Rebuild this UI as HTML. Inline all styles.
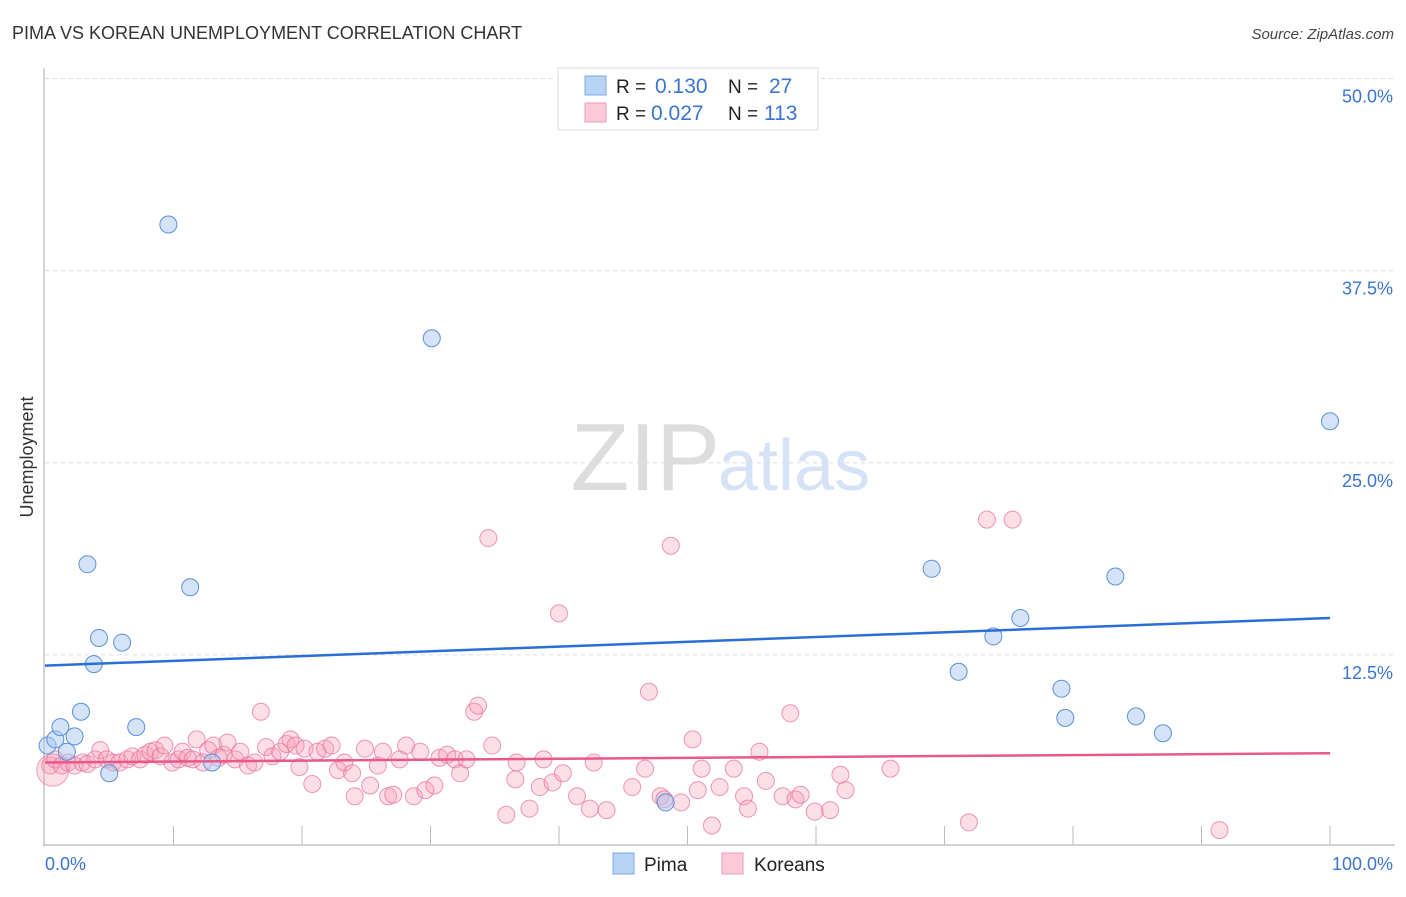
<!DOCTYPE html>
<html><head><meta charset="utf-8"><style>
body{margin:0;background:#fff;font-family:"Liberation Sans",sans-serif;}
svg text{font-family:"Liberation Sans",sans-serif;}
</style></head><body>
<svg id="chart" width="1406" height="892">
<text x="12" y="39" font-size="18" fill="#333">PIMA VS KOREAN UNEMPLOYMENT CORRELATION CHART</text>
<text x="1394" y="39" font-size="15" fill="#444" font-style="italic" text-anchor="end">Source: ZipAtlas.com</text>
<text x="0" y="0" transform="translate(33,457) rotate(-90)" font-size="18" fill="#333" text-anchor="middle">Unemployment</text>
<text x="720" y="490" font-size="96" fill="#ddd" font-family="Liberation Serif" text-anchor="end">ZIP</text>
<text x="718" y="490" font-size="72" fill="#d6e2f5">atlas</text>
<g id="grid"></g><g id="pts"></g><g id="lines"></g>
<g>
<rect x="558" y="68" width="260" height="62" fill="#fff" stroke="#ddd"/>
<rect x="585" y="76" width="21" height="19" fill="#b9d3f5" stroke="#7aa9e6"/>
<rect x="585" y="103" width="21" height="19" fill="#fbc9d8" stroke="#f09ab4"/>
<text x="616" y="93" font-size="19" fill="#222">R = </text><text x="655" y="93" font-size="21" fill="#3b74d2">0.130</text>
<text x="728" y="93" font-size="19" fill="#222">N = </text><text x="769" y="93" font-size="21" fill="#3b74d2">27</text>
<text x="616" y="120" font-size="19" fill="#222">R = </text><text x="651" y="120" font-size="21" fill="#3b74d2">0.027</text>
<text x="728" y="120" font-size="19" fill="#222">N = </text><text x="764" y="120" font-size="21" fill="#3b74d2">113</text>
</g>
<g>
<rect x="613" y="853" width="21" height="21" fill="#b9d3f5" stroke="#7aa9e6"/>
<text x="644" y="871" font-size="19" fill="#222">Pima</text>
<rect x="722" y="853" width="21" height="21" fill="#fbc9d8" stroke="#f09ab4"/>
<text x="754" y="871" font-size="19" fill="#222">Koreans</text>
</g>
</svg>
<script>
const yTicks=[12.5,25,37.5,50];
const yTickLabels=["12.5%","25.0%","37.5%","50.0%"];
const pimaX=[0.2,0.8,1.2,1.7,2.3,2.8,3.3,3.8,4.2,5.0,6.0,7.1,9.6,11.3,13.0,30.1,48.3,69.0,71.1,73.8,75.9,79.1,79.4,83.3,84.9,87.0,100];
const pimaY=[6.6,7.0,7.8,6.2,7.2,8.8,18.4,11.9,13.6,4.8,13.3,7.8,40.5,16.9,5.5,33.1,2.9,18.1,11.4,13.7,14.9,10.3,8.4,17.6,8.5,7.4,27.7];
const korX=[0.4,0.8,1.3,1.8,2.3,2.9,3.3,3.9,4.3,4.8,5.3,5.8,6.4,6.8,7.4,7.8,8.2,8.6,9.0,9.3,9.9,10.4,10.7,11.1,11.5,11.8,12.3,12.7,13.1,13.5,13.9,14.2,14.8,15.2,15.8,16.3,16.8,17.2,17.7,18.3,18.8,19.1,19.5,19.8,20.2,20.8,21.2,21.8,22.3,22.8,23.3,23.9,24.1,24.9,25.3,25.9,26.3,26.7,27.1,27.6,28.1,28.7,29.2,29.6,30.3,30.7,31.3,31.9,32.3,32.8,33.4,33.7,34.5,34.8,35.9,36.6,36.7,37.7,38.5,38.8,39.5,40.0,40.3,41.4,42.4,42.7,43.7,45.7,46.7,47.0,47.9,48.2,48.7,49.5,50.4,50.8,51.1,51.9,52.5,53.6,54.4,54.7,55.6,56.1,57.4,58.0,58.4,58.8,59.9,61.1,61.9,62.3,65.8,71.9,73.3,75.3,91.4];
const korY=[5.3,5.7,5.3,5.5,5.3,5.5,5.4,5.7,6.3,5.7,5.5,5.5,5.7,5.9,5.7,6.0,6.2,6.3,5.9,6.6,5.5,5.7,6.2,5.8,5.7,7.0,5.5,6.3,6.6,5.8,6.0,6.8,5.7,6.2,5.3,5.5,8.8,6.5,5.9,6.2,6.7,7.0,6.6,5.2,6.4,4.1,6.2,6.4,6.6,5.0,5.5,4.8,3.3,6.4,4.0,5.3,6.2,3.3,3.4,5.7,6.6,3.3,6.2,3.7,4.0,5.8,6.0,5.7,4.8,5.7,8.8,9.2,20.1,6.6,2.1,4.4,5.5,2.5,3.9,5.7,4.2,15.2,4.8,3.3,2.5,5.5,2.4,3.9,5.1,10.1,3.3,3.1,19.6,2.9,7.0,3.7,5.1,1.4,3.9,5.1,3.3,2.5,6.2,4.3,3.3,8.7,3.1,3.4,2.3,2.4,4.7,3.7,5.1,1.6,21.3,21.3,1.1];
const pimaTrend=[11.8,14.9], korTrend=[5.5,6.1];
const X0=45,X1=1330,Y0=847,PY=15.37;
const xs=v=>X0+(X1-X0)*v/100, ys=v=>Y0-PY*v;
const NS="http://www.w3.org/2000/svg";
function mk(t,a,p){const e=document.createElementNS(NS,t);for(const k in a)e.setAttribute(k,a[k]);p.appendChild(e);return e;}
const grid=document.getElementById('grid');
yTicks.forEach((t,i)=>{
 const l=mk('line',{x1:45,x2:1395,y1:ys(t),y2:ys(t),stroke:'#ddd','stroke-dasharray':'4,4'},grid);
 
 
 const tx=mk('text',{x:1393,y:ys(t)+24,'font-size':18,fill:'#3b74d2','text-anchor':'end'},grid);
 tx.textContent=yTickLabels[i];
 
 
});
const ax=mk('line',{x1:44,x2:44,y1:68,y2:846,stroke:'#aaa'},grid);


const bx=mk('line',{x1:44,x2:1395,y1:845,y2:845,stroke:'#aaa'},grid);


for(let i=1;i<=10;i++){const tk=mk('line',{x1:xs(i*10),x2:xs(i*10),y1:826,y2:845,stroke:'#bbb'},grid);
 
 }
const xl=mk('text',{x:45,y:870,'font-size':18,fill:'#3b74d2'},grid);xl.textContent='0.0%';


const xr=mk('text',{x:1393,y:870,'font-size':18,fill:'#3b74d2','text-anchor':'end'},grid);xr.textContent='100.0%';


const pts=document.getElementById('pts');
const big=mk('circle',{cx:xs(0.6),cy:ys(5.0),r:16,fill:'rgba(246,160,185,0.35)',stroke:'rgba(232,110,150,0.6)'},pts);


korX.forEach((x,i)=>{const c=mk('circle',{cx:xs(x),cy:ys(korY[i]),r:8.5,fill:'rgba(246,160,185,0.35)',stroke:'rgba(232,110,150,0.7)'},pts);
 
 });
pimaX.forEach((x,i)=>{const c=mk('circle',{cx:xs(x),cy:ys(pimaY[i]),r:8.5,fill:'rgba(170,200,240,0.5)',stroke:'#5b90dc'},pts);
 
 });
const lines=document.getElementById('lines');
const l1=mk('line',{x1:xs(0),x2:xs(100),y1:ys(pimaTrend[0]),y2:ys(pimaTrend[1]),stroke:'#2a6fd6','stroke-width':2.5},lines);


const l2=mk('line',{x1:xs(0),x2:xs(100),y1:ys(korTrend[0]),y2:ys(korTrend[1]),stroke:'#e8588a','stroke-width':2.5},lines);


</script>
</body></html>
